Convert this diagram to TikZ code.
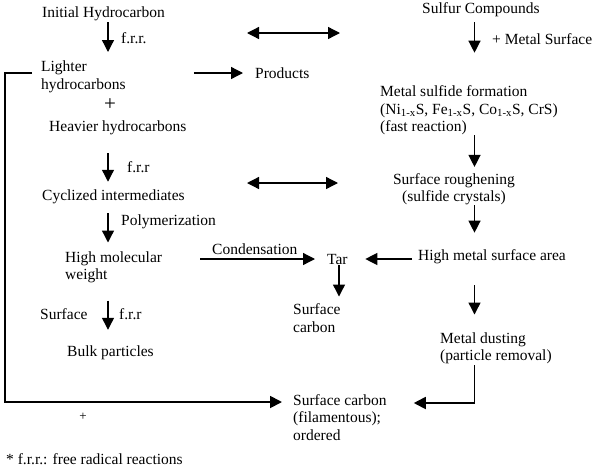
\documentclass[tikz,border=0pt]{standalone}
\usepackage{fontspec}
\setmainfont{Liberation Serif}
\usetikzlibrary{arrows.meta}

\begin{document}
\begin{tikzpicture}[x=1pt, y=-1pt,
    txt/.style={inner sep=0pt, anchor=west, align=left, font=\fontsize{15.5}{17.5}\selectfont},
    arr/.style={line width=1.3pt, -{Triangle[length=12pt, width=12pt]}},
    dbl/.style={line width=1.3pt, {Triangle[length=12pt, width=12pt]}-{Triangle[length=12pt, width=12pt]}},
    loopline/.style={arr, line width=1.8pt}]
	\useasboundingbox (0,0) rectangle (594,472);
	\def\colL{108}
	\def\colR{474.5}
	\coordinate (cl) at (\colL,0);
	\coordinate (cr) at (\colR,0);
	\coordinate (brk) at (5,0);
	
	% hydrocarbon side
	\node[txt] (init) at (42,14) {Initial Hydrocarbon};
	\node[txt] (frr1) at (121,38) {f.r.r.};
	\node[txt] (lighter) at (41,77) {Lighter\\hydrocarbons};
	\node[txt] (products) at (255,73) {Products};
	\node[inner sep=0pt, font=\fontsize{21}{21}\selectfont] (plusA) at (110,104.5) {+};
	\node[txt] (heavier) at (49,128) {Heavier hydrocarbons};
	\node[txt] (frr2) at (127,167) {f.r.r};
	\node[txt] (cyc) at (42,197) {Cyclized intermediates};
	\node[txt] (poly) at (121,222) {Polymerization};
	\node[txt] (hmw) at (65,267.5) {High molecular\\weight};
	\node[txt] (cond) at (212,249) {Condensation};
	\node[txt] (tar) at (327,259) {Tar};
	\node[txt] (surf) at (40,314) {Surface};
	\node[txt] (frr3) at (119,314) {f.r.r};
	\node[txt] (bulk) at (67,353) {Bulk particles};
	\node[txt] (scA) at (293,318) {Surface\\carbon};
	
	% sulfur side
	\node[txt] (sulfur) at (422,10) {Sulfur Compounds};
	\node[txt] (metsurf) at (492,39) {+ Metal Surface};
	\node[txt] (msf) at (380,110.5) {Metal sulfide formation\\(Ni\textsubscript{1-x}S, Fe\textsubscript{1-x}S, Co\textsubscript{1-x}S, CrS)\\(fast reaction)};
	\node[txt, anchor=center, align=center] (rough) at (454,189) {Surface roughening\\(sulfide crystals)};
	\node[txt] (hmsa) at (418,257) {High metal surface area};
	\node[txt] (dust) at (440,348.5) {Metal dusting\\(particle removal)};
	
	% bottom
	\node[txt] (scB) at (293,417.5) {Surface carbon\\(filamentous);\\ordered};
	\node[inner sep=0pt, font=\fontsize{13}{13}\selectfont] (plusB) at (83,417) {+};
	\node[txt] (note) at (6,459) {* f.r.r.: free radical reactions};
	
	% vertical steps
	\draw[arr, shorten <=1pt, shorten >=9pt] (init.south -| cl) -- (lighter.north -| cl);
	\draw[arr, shorten <=18pt, shorten >=8pt] (heavier.south -| cl) -- (cyc.north -| cl);
	\draw[arr, shorten <=9pt, shorten >=9pt] (cyc.south -| cl) -- (hmw.north -| cl);
	\draw[arr, shorten <=17pt, shorten >=16pt] (hmw.south -| cl) -- (bulk.north -| cl);
	\draw[arr, shorten <=5pt, shorten >=33pt] (sulfur.south -| cr) -- (msf.north -| cr);
	\draw[arr, shorten >=6pt] (msf.south -| cr) -- (rough.north -| cr);
	\draw[arr, shorten >=17pt] (rough.south -| cr) -- (hmsa.north -| cr);
	\draw[arr, shorten <=21pt, shorten >=18pt] (hmsa.south -| cr) -- (dust.north -| cr);
	\draw[arr, shorten <=1pt, shorten >=7pt] (tar.south -| 339,0) -- (scA.north -| 339,0);
	
	% horizontal steps
	\draw[arr, shorten <=68pt, shorten >=12pt] (lighter.east |- products.west) -- (products.west);
	\draw[arr, shorten <=38pt, shorten >=12pt] (hmw.east |- tar.west) -- (tar.west);
	\draw[arr, shorten <=6pt, shorten >=17.5pt] (hmsa.west |- tar.east) -- (tar.east);
	
	% coupling of the two sides
	\coordinate (dA1) at (247,33);
	\coordinate (dA2) at (340,33);
	\coordinate (dB1) at (247,183);
	\coordinate (dB2) at (338,183);
	\draw[dbl] (dA1) -- (dA2);
	\draw[dbl] (dB1) -- (dB2);
	
	% routes to filamentous carbon
	\coordinate (lt) at ([yshift=4pt]lighter.west);
	\coordinate (sbw) at ([yshift=15.5pt]scB.west);
	\coordinate (sbe) at ([yshift=14.5pt]scB.east);
	\draw[loopline, shorten <=9pt, shorten >=11pt] (lt) -- (lt -| brk) |- (sbw);
	\draw[loopline, shorten <=1pt, shorten >=27pt] (dust.south -| cr) |- (sbe);
\end{tikzpicture}
\end{document}
